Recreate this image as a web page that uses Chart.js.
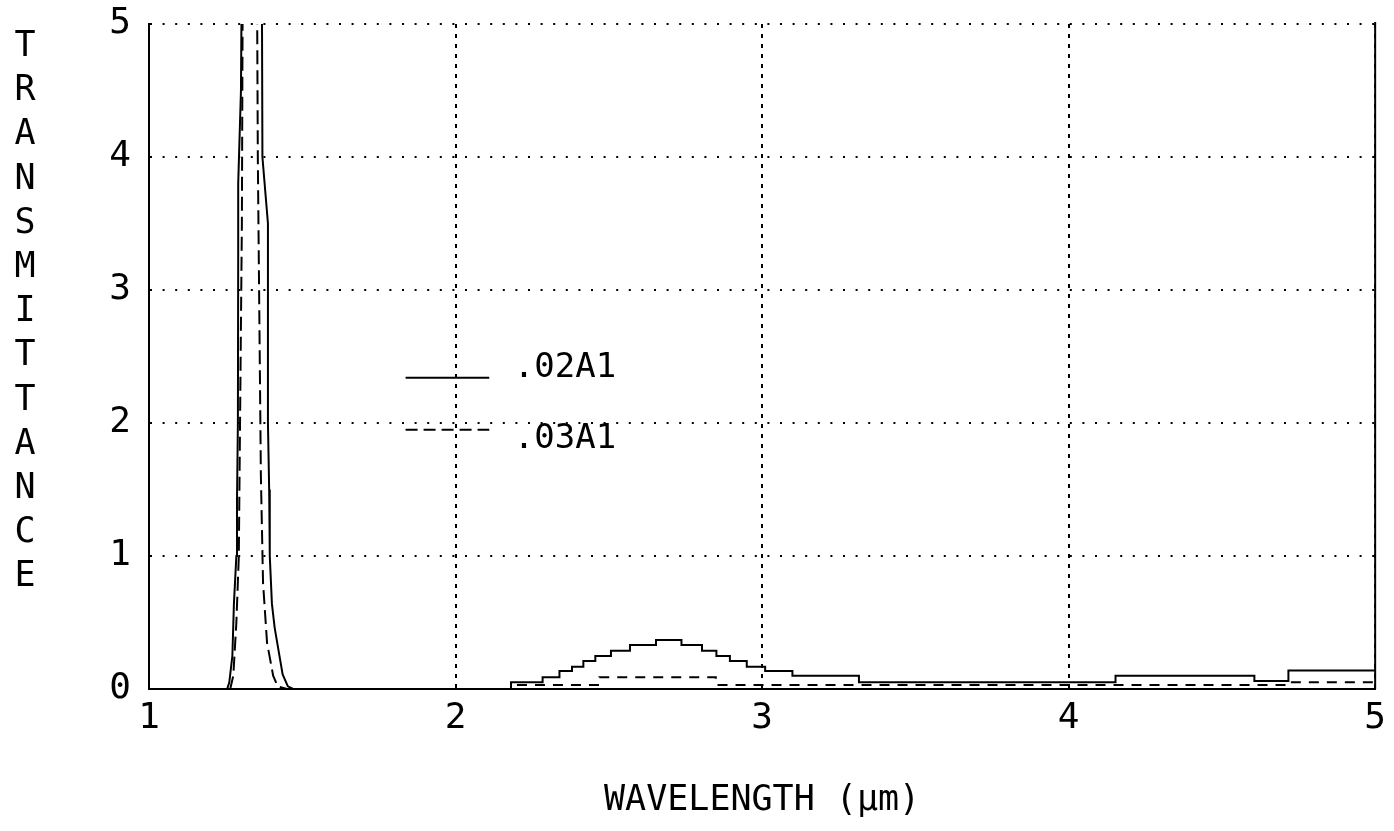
<!DOCTYPE html>
<html>
<head>
<meta charset="utf-8">
<title>Transmittance</title>
<script src="https://cdn.jsdelivr.net/npm/chart.js@4/dist/chart.umd.min.js"></script>
<style>
  body { margin: 0; background: #fff; }
  canvas { display: block; }
</style>
</head>
<body>
<canvas id="chart" width="1394" height="831"></canvas>
<script>
'use strict'

// wavelength (um), transmittance
const solidPeak = [
  [1.0, 0], [1.255, 0], [1.262, 0.05], [1.272, 0.25], [1.277, 0.64], [1.285, 1.0],
  [1.287, 1.4], [1.290, 2.0], [1.291, 3.3], [1.291, 3.8], [1.300, 4.5], [1.303, 5.5],
  [1.368, 5.5], [1.370, 4.0], [1.388, 3.5], [1.388, 2.0], [1.392, 1.5], [1.394, 1.0],
  [1.401, 0.64], [1.410, 0.46], [1.427, 0.23], [1.436, 0.11], [1.453, 0.02], [1.47, 0],
]
const solidSteps = [
  [1.47, 0], [2.181, 0.05], [2.284, 0.088], [2.339, 0.135], [2.380, 0.168], [2.417, 0.21],
  [2.456, 0.248], [2.507, 0.288], [2.569, 0.331], [2.654, 0.368], [2.737, 0.331],
  [2.804, 0.288], [2.851, 0.248], [2.895, 0.21], [2.950, 0.168], [3.010, 0.135],
  [3.099, 0.1], [3.316, 0.05], [4.153, 0.1], [4.606, 0.06], [4.717, 0.14], [5.0, 0.14],
]
const dashedPeak = [
  [1.0, 0], [1.265, 0], [1.275, 0.1], [1.285, 0.5], [1.293, 1.0], [1.297, 2.0],
  [1.303, 3.5], [1.306, 5.5], [1.352, 5.5], [1.355, 4.0], [1.360, 2.8], [1.365, 1.6],
  [1.372, 0.8], [1.385, 0.35], [1.405, 0.1], [1.42, 0.02], [1.45, 0],
]
const dashedSteps = [
  [1.45, 0], [2.181, 0.03], [2.469, 0.088], [2.849, 0.03], [4.717, 0.05], [5.0, 0.05],
]
const seriesNames = ['.02A1', '.03A1']
const xTicks = [1, 2, 3, 4, 5]
const yTicks = [0, 1, 2, 3, 4, 5]

const FONT = "'DejaVu Sans Mono', 'Liberation Mono', monospace"
const toXY = (pts) => pts.map(([x, y]) => ({ x: x, y: y }))

const line = (pts, extra) => Object.assign({
  data: toXY(pts),
  borderColor: '#000',
  borderWidth: 2,
  pointRadius: 0,
  fill: false,
  tension: 0,
}, extra)

// legend sits inside the plot, y title is stacked letters, right edge is a solid frame
const extrasPlugin = {
  id: 'extras',
  afterDraw(chart) {
    const ctx = chart.ctx
    const { x, y } = chart.scales
    const area = chart.chartArea
    ctx.save()
    ctx.strokeStyle = '#000'
    ctx.lineWidth = 2
    ctx.beginPath()
    ctx.moveTo(area.right, area.top - 2)
    ctx.lineTo(area.right, area.bottom)
    ctx.stroke()

    const x0 = x.getPixelForValue(1.837)
    const x1 = x.getPixelForValue(2.11)
    const tx = x.getPixelForValue(2.19)
    const rows = [2.34, 1.95]
    ctx.fillStyle = '#000'
    ctx.font = '34px ' + FONT
    ctx.textBaseline = 'middle'
    rows.forEach((v, i) => {
      const py = y.getPixelForValue(v)
      ctx.setLineDash(i === 0 ? [] : [12, 6])
      ctx.beginPath()
      ctx.moveTo(x0, py)
      ctx.lineTo(x1, py)
      ctx.stroke()
      ctx.fillText(seriesNames[i], tx, py - (i === 0 ? 10 : -10))
    })
    ctx.setLineDash([])

    ctx.font = '35px ' + FONT
    ctx.textAlign = 'center'
    const letters = 'TRANSMITTANCE'.split('')
    letters.forEach((ch, i) => {
      ctx.fillText(ch, 25, 47 + i * 44.2)
    })
    ctx.restore()
  },
}

const config = {
  type: 'line',
  data: {
    datasets: [
      line(solidPeak, { label: seriesNames[0] }),
      line(solidSteps, { label: seriesNames[0], stepped: true }),
      line(dashedPeak, { label: seriesNames[1], borderDash: [14, 6] }),
      line(dashedSteps, { label: seriesNames[1], stepped: true, borderDash: [10, 8] }),
    ],
  },
  options: {
    responsive: false,
    animation: false,
    layout: { padding: { top: 24, right: 17, left: 0, bottom: 0 } },
    plugins: {
      legend: { display: false },
      tooltip: { enabled: false },
    },
    scales: {
      x: {
        type: 'linear',
        min: 1,
        max: 5,
        afterBuildTicks: (s) => { s.ticks = xTicks.map((v) => ({ value: v })) },
        afterFit: (s) => { s.height = 142 },
        ticks: { color: '#000', font: { family: FONT, size: 36 }, padding: 8, maxRotation: 0 },
        grid: { color: '#000', lineWidth: 2, drawTicks: false },
        border: { color: '#000', width: 2, dash: [4, 6] },
        title: {
          display: true,
          text: 'WAVELENGTH (µm)',
          color: '#000',
          font: { family: FONT, size: 35 },
          padding: { top: 0, bottom: 9 },
        },
      },
      y: {
        min: 0,
        max: 5,
        afterBuildTicks: (s) => { s.ticks = yTicks.map((v) => ({ value: v })) },
        afterFit: (s) => {
          s.width = 149
          s.paddingTop = 0
          s.paddingBottom = 0
        },
        ticks: { color: '#000', font: { family: FONT, size: 36 }, padding: 18 },
        grid: { color: '#000', lineWidth: 2, drawTicks: false },
        border: { color: '#000', width: 2, dash: [2, 10.6] },
      },
    },
  },
  plugins: [extrasPlugin],
}

const myChart = new Chart(document.getElementById('chart'), config)
</script>
</body>
</html>
